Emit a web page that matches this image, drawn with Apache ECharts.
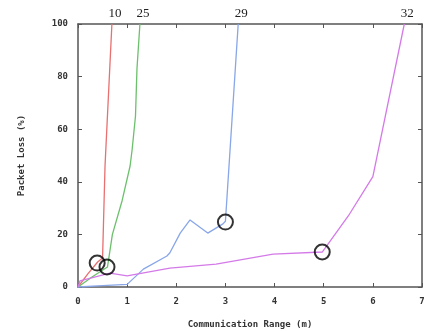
<!DOCTYPE html>
<html><head><meta charset="utf-8">
<script src="https://cdn.jsdelivr.net/npm/echarts@6/dist/echarts.min.js"></script>
<style>html,body{margin:0;padding:0;background:#fff}#c{width:432px;height:331px}</style>
</head><body><div id="c"></div>
<script>
const seriesNames = ['10', '25', '29', '32'];
const red10 = [[0,0],[0.2,5],[0.4,9.5],[0.5,11],[0.55,46],[0.69,100]];
const green25 = [[0,0],[0.3,4],[0.6,7.6],[0.7,20],[0.9,33],[1.06,46],[1.1,52],[1.17,65],[1.2,83],[1.26,100]];
const blue29 = [[0,0],[0.5,0.5],[1,1],[1.33,6.8],[1.81,11.8],[1.87,13],[2.08,20.5],[2.28,25.5],[2.64,20.5],[2.95,24],[3.0,25],[3.26,100]];
const magenta32 = [[0,0],[0.04,2.3],[0.65,5.3],[1,4.2],[1.87,7.2],[2.81,8.7],[3.97,12.5],[4.97,13.3],[5.5,27],[6,42],[6.64,100]];
const circles = [[0.39,9.1],[0.59,7.6],[3.0,24.7],[4.97,13.3]];
const xTicks = [0,1,2,3,4,5,6,7];
const yTicks = [0,20,40,60,80,100];
const colors = ['#e87070', '#6cc06c', '#88a6e8', '#d47ae8'];

const chart = echarts.init(document.getElementById('c'));
const axisCommon = {
  type: 'value', min: 0,
  axisLine: {show: true, onZero: false, lineStyle: {color: '#555', width: 1.5}},
  axisTick: {show: true, inside: true, length: 4, lineStyle: {color: '#555'}},
  splitLine: {show: false}
};
const lineSeries = [red10, green25, blue29, magenta32].map((d, i) => ({
  type: 'line', name: seriesNames[i], data: d,
  symbol: 'none', lineStyle: {color: colors[i], width: 1.3}, clip: false, z: 2,
  markPoint: {
    symbol: 'circle', symbolSize: 1, itemStyle: {color: 'rgba(0,0,0,0)'},
    data: [{coord: d[d.length - 1], value: seriesNames[i]}],
    label: {show: true, position: 'top', distance: 3, offset: [3, 0], formatter: seriesNames[i],
      fontFamily: 'Liberation Serif', fontSize: 13, color: '#222'}
  }
}));
chart.setOption({
  animation: false,
  grid: {left: 78, right: 10, top: 24, bottom: 44, outerBoundsMode: 'none', containLabel: false},
  xAxis: [
    Object.assign({}, axisCommon, {max: 7, interval: 1, position: 'bottom',
      name: 'Communication Range (m)', nameLocation: 'middle', nameGap: 33,
      nameTextStyle: {fontFamily: 'DejaVu Sans Mono', fontWeight: 'bold', fontSize: 9, color: '#333'},
      axisLabel: {margin: 10, fontFamily: 'DejaVu Sans Mono', fontWeight: 'bold', fontSize: 9, color: '#333',
        formatter: v => xTicks.includes(v) ? String(v) : ''}}),
    Object.assign({}, axisCommon, {max: 7, interval: 1, position: 'top', axisLabel: {show: false}})
  ],
  yAxis: [
    Object.assign({}, axisCommon, {max: 100, interval: 20, position: 'left',
      name: 'Packet Loss (%)', nameLocation: 'middle', nameGap: 52,
      nameTextStyle: {fontFamily: 'DejaVu Sans Mono', fontWeight: 'bold', fontSize: 9, color: '#333'},
      axisLabel: {margin: 10, fontFamily: 'DejaVu Sans Mono', fontWeight: 'bold', fontSize: 9, color: '#333',
        formatter: v => yTicks.includes(v) ? String(v) : ''}}),
    Object.assign({}, axisCommon, {max: 100, interval: 20, position: 'right', axisLabel: {show: false}})
  ],
  series: lineSeries.concat([{
    type: 'scatter', data: circles, symbol: 'circle', symbolSize: 15,
    itemStyle: {color: 'rgba(255,255,255,0)', borderColor: '#000', borderWidth: 2}, z: 5
  }])
});
</script></body></html>
